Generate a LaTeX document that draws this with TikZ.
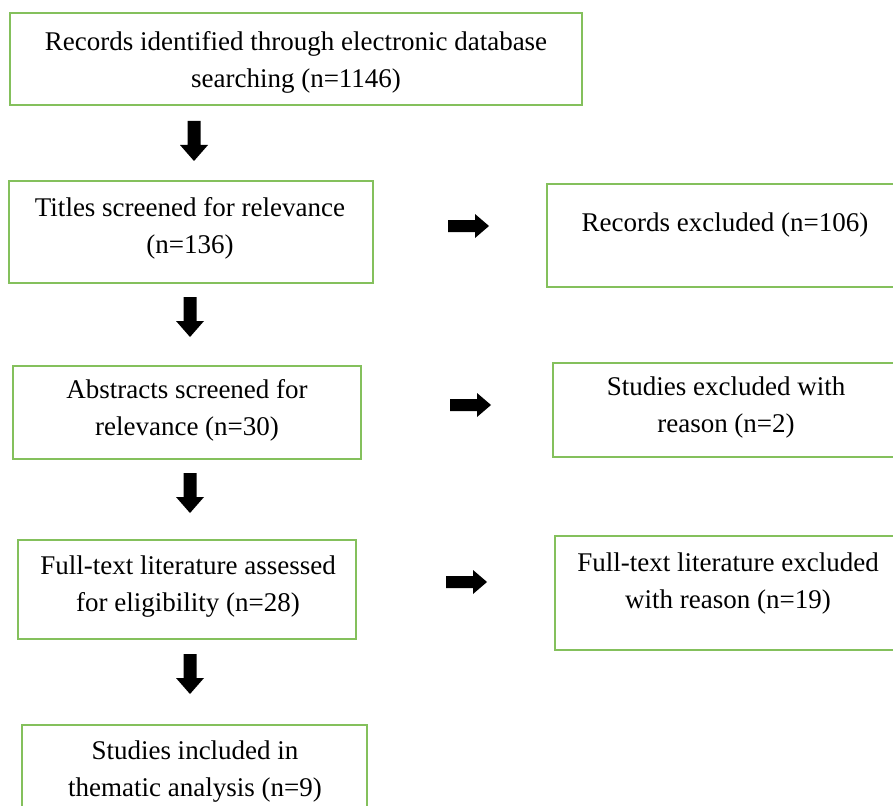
\documentclass[tikz,border=0pt]{standalone}
\usepackage{fontspec}
\setmainfont{Liberation Serif}
\definecolor{boxgreen}{RGB}{132,192,92}
\begin{document}
\begin{tikzpicture}[x=1pt,y=1pt,
  box/.style={draw=boxgreen, line width=2.2pt, rectangle, inner sep=0pt},
  txt/.style={align=center, inner sep=0pt, font=\fontsize{27}{37}\selectfont},
  downarr/.pic={\fill[black] (-6.5,0) -- (6.5,0) -- (6.5,-24) -- (14,-24) -- (0,-40) -- (-14,-24) -- (-6.5,-24) -- cycle;},
  rightarr/.pic={\fill[black] (0,6) -- (27,6) -- (27,12) -- (41,0) -- (27,-12) -- (27,-6) -- (0,-6) -- cycle;}
]
\useasboundingbox (0,0) rectangle (893,-805);
\clip (0,0) rectangle (893,-805);

% boxes
\node[box, minimum width=572pt, minimum height=92pt] (b1) at (296,-59) {};
\node[box, minimum width=364pt, minimum height=102pt] (b2) at (191,-232) {};
\node[box, minimum width=358pt, minimum height=103pt] (r1) at (726,-235.5) {};
\node[box, minimum width=348pt, minimum height=93pt] (b3) at (187,-412.5) {};
\node[box, minimum width=352pt, minimum height=94pt] (r2) at (729,-410) {};
\node[box, minimum width=338pt, minimum height=99pt] (b4) at (187,-589.5) {};
\node[box, minimum width=350pt, minimum height=114pt] (r3) at (730,-593) {};
\node[box, minimum width=345pt, minimum height=90pt] (b5) at (194.5,-770) {};

% texts
\node[txt] (t1) at (296,-62) {Records identified through electronic database\\searching (n=1146)};
\node[txt] (t2) at (190,-228.5) {Titles screened for relevance\\(n=136)};
\node[txt] (tr1) at (725,-225.5) {Records excluded (n=106)};
\node[txt] (t3) at (187,-410.5) {Abstracts screened for\\relevance (n=30)};
\node[txt] (tr2) at (726,-407.5) {Studies excluded with\\reason (n=2)};
\node[txt] (t4) at (188,-586.5) {Full-text literature assessed\\for eligibility (n=28)};
\node[txt] (tr3) at (728,-583.5) {Full-text literature excluded\\with reason (n=19)};
\node[txt] (t5) at (195,-772) {Studies included in\\thematic analysis (n=9)};

% block arrows
\pic (d1) at (194,-121) {downarr};
\pic (d2) at (190,-297) {downarr};
\pic (d3) at (190,-473) {downarr};
\pic (d4) at (190,-654) {downarr};
\pic (h1) at (448,-226) {rightarr};
\pic (h2) at (450,-405) {rightarr};
\pic (h3) at (446,-582) {rightarr};
\end{tikzpicture}
\end{document}
